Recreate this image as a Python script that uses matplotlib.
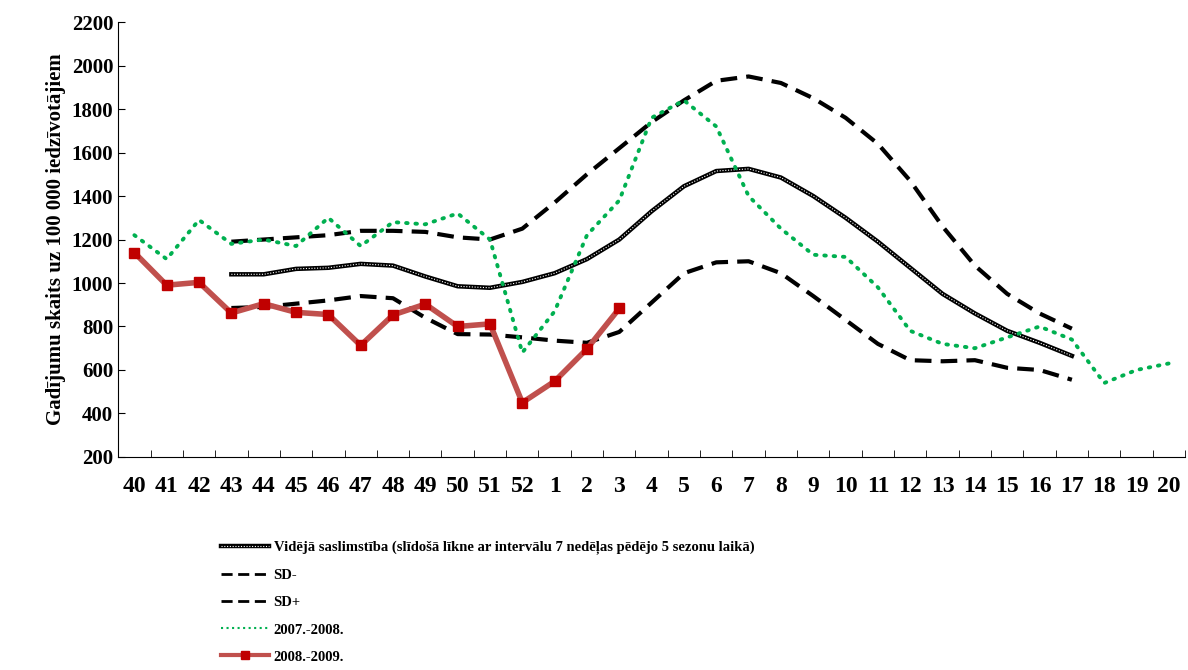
import numpy as np
import matplotlib.pyplot as plt
from matplotlib.lines import Line2D

plt.rcParams['font.family'] = 'Liberation Serif'
plt.rcParams['font.weight'] = 'bold'

weeks = [str(w) for w in range(40, 53)] + [str(w) for w in range(1, 21)]

season_0809 = [1140, 990, 1003, 862, 905, 865, 855, 713, 853, 903, 800, 812,
               450, 548, 697, 883]
season_0708 = [1220, 1110, 1290, 1180, 1200, 1170, 1300, 1170, 1280, 1270, 1320,
               1200, 680, 870, 1220, 1380, 1760, 1840, 1720, 1400, 1250, 1130,
               1120, 980, 780, 720, 700, 750, 800, 740, 540, 600, 630]
# mean / SD curves start at week 43
avg = [1040, 1040, 1065, 1070, 1088, 1080, 1030, 985, 978, 1005, 1045, 1110,
       1200, 1330, 1445, 1515, 1525, 1485, 1400, 1300, 1190, 1070, 950, 860,
       780, 725, 665]
sd_plus = [1190, 1200, 1210, 1220, 1240, 1240, 1235, 1210, 1200, 1250, 1370,
           1500, 1620, 1740, 1840, 1930, 1950, 1920, 1850, 1760, 1640, 1470,
           1260, 1080, 950, 860, 790]
sd_minus = [885, 890, 905, 920, 940, 930, 840, 765, 763, 750, 735, 725, 775,
            910, 1045, 1095, 1100, 1045, 940, 830, 720, 645, 640, 645, 610,
            600, 555]

x = np.arange(len(weeks))
xs = x[3:3 + len(avg)]

fig = plt.figure(figsize=(11.88, 6.70), dpi=100)
ax = fig.add_axes([0.0995, 0.318, 0.898, 0.649])

ax.plot(xs, sd_minus, color='black', lw=3, dashes=(4, 2.2))
ax.plot(xs, sd_plus, color='black', lw=3, dashes=(4, 2.2))
ax.plot(xs, avg, color='black', lw=3.2)
ax.plot(xs, avg, color='white', lw=0.8, ls=(0, (1, 1.5)))
ax.plot(x, season_0708, color='#00b050', lw=2.8, ls=(0, (0.4, 2)),
        dash_capstyle='round')
ax.plot(x[:len(season_0809)], season_0809, color='#c0504d', lw=4,
        marker='s', ms=7, mfc='#c00000', mec='#c00000')

ax.set_xlim(-0.5, len(weeks) - 0.5)
ax.set_ylim(200, 2200)
ax.set_yticks(range(200, 2201, 200))
ax.set_xticks(x)
ax.set_xticklabels(weeks)
ax.set_xticks(np.arange(-0.5, len(weeks)), minor=True)
ax.tick_params(axis='x', which='major', length=0, labelsize=17, pad=14)
ax.tick_params(axis='x', which='minor', length=5, direction='in')
ax.tick_params(axis='y', labelsize=15, direction='in', length=5)
for s in ['top', 'right']:
    ax.spines[s].set_visible(False)
ax.set_ylabel('Gadījumu skaits uz 100 000 iedzīvotājiem', fontsize=15,
              fontweight='bold')

mean_h = (Line2D([], [], color='black', lw=3.2),
          Line2D([], [], color='white', lw=0.8, ls=(0, (1, 1.5))))
handles = [mean_h,
           Line2D([], [], color='black', lw=2, dashes=(4, 2)),
           Line2D([], [], color='black', lw=2, dashes=(4, 2)),
           Line2D([], [], color='#00b050', lw=1.5, ls=':'),
           Line2D([], [], color='#c0504d', lw=3, marker='s', ms=6,
                  mfc='#c00000', mec='#c00000')]
labels = ['Vidējā saslimstība (slīdošā līkne ar intervālu 7 nedēļas pēdējo 5 sezonu laikā)',
          'SD-', 'SD+', '2007.-2008.', '2008.-2009.']
fig.legend(handles, labels, loc='lower left', bbox_to_anchor=(0.175, -0.01),
           frameon=False, fontsize=10.5, labelspacing=0.95, handlelength=3.3,
           handletextpad=0.3)

fig.savefig('out.png', dpi=100)
